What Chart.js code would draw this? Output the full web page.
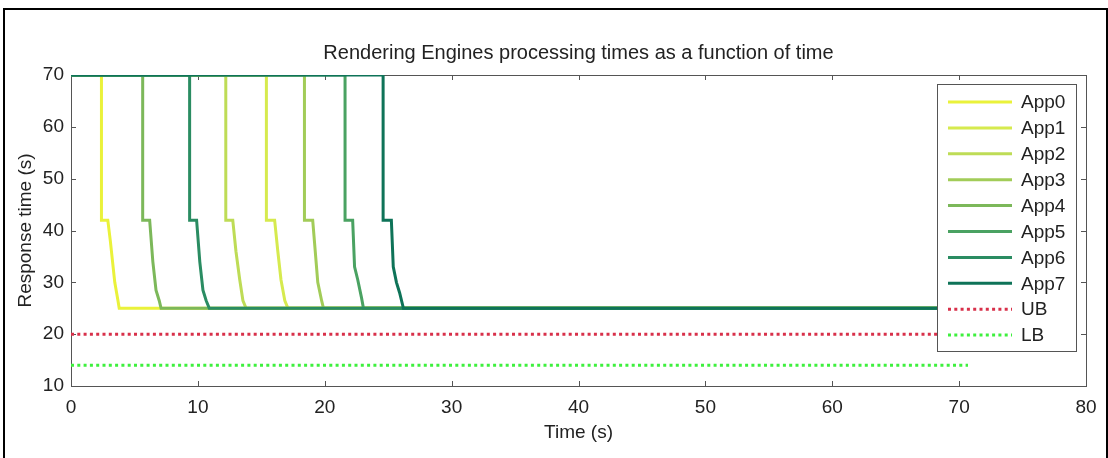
<!DOCTYPE html>
<html lang="en">
<head>
  <meta charset="UTF-8">
  <title>Rendering Engines</title>
  <script src="https://cdn.jsdelivr.net/npm/chart.js"></script>
  <style>
    html, body {
      margin: 0;
      padding: 0;
      background: #fff;
      overflow: hidden;
    }
    .frame {
      position: absolute;
      left: 3px;
      top: 8px;
      width: 1101px;
      height: 480px;
      border: 2px solid #000;
    }
    canvas {
      position: absolute;
      left: 0;
      top: 0;
    }
  </style>
</head>
<body>

<div class="frame"></div>
<canvas id="chart" width="1108" height="458"></canvas>

<script>
  // time (s) / response time (s) for each app
  const app0T = [0, 2.4, 2.4, 2.9, 3.1, 3.45, 3.7, 3.8, 71];
  const app0R = [70, 70, 42, 42, 38, 30, 26.5, 25, 25];
  const app1T = [0, 15.4, 15.4, 16.05, 16.3, 16.55, 16.85, 17.1, 71];
  const app1R = [70, 70, 42, 42, 36, 30.5, 26.5, 25, 25];
  const app2T = [0, 12.2, 12.2, 12.75, 13.0, 13.3, 13.55, 13.8, 71];
  const app2R = [70, 70, 42, 42, 36, 30.5, 26.5, 25, 25];
  const app3T = [0, 18.4, 18.4, 19.05, 19.2, 19.45, 19.75, 19.9, 71];
  const app3R = [70, 70, 42, 42, 37.5, 30, 26.5, 25, 25];
  const app4T = [0, 5.65, 5.65, 6.2, 6.45, 6.7, 6.95, 7.1, 71];
  const app4R = [70, 70, 42, 42, 34, 28.5, 26.5, 25, 25];
  const app5T = [0, 21.6, 21.6, 22.2, 22.35, 22.6, 22.9, 23.05, 71];
  const app5R = [70, 70, 42, 42, 33, 30.5, 27, 25, 25];
  const app6T = [0, 9.35, 9.35, 9.9, 10.15, 10.4, 10.65, 10.9, 71];
  const app6R = [70, 70, 42, 42, 34, 28.5, 26.5, 25, 25];
  const app7T = [0, 24.6, 24.6, 25.25, 25.4, 25.65, 25.9, 26.2, 71];
  const app7R = [70, 70, 42, 42, 33, 30, 28, 25, 25];
  const ubT = [0, 71];
  const ubR = [20, 20];
  const lbT = [0, 70.7];
  const lbR = [14, 14];

  const labels = ["App0", "App1", "App2", "App3", "App4", "App5", "App6", "App7", "UB", "LB"];
  const times = [app0T, app1T, app2T, app3T, app4T, app5T, app6T, app7T, ubT, lbT];
  const resps = [app0R, app1R, app2R, app3R, app4R, app5R, app6R, app7R, ubR, lbR];
  const colors = ["#eaf23a", "#d6ea4e", "#bedc56", "#a2cc58", "#7cb85a", "#4aa262", "#2a8c62", "#0e7358", "#d8304a", "#3ef03e"];

  const xTicks = [0, 10, 20, 30, 40, 50, 60, 70, 80];
  const yTicks = [10, 20, 30, 40, 50, 60, 70];

  const FONT = "'Liberation Sans', Arial, sans-serif";

  const datasets = labels.map((name, i) => {
    const dotted = name === "UB" || name === "LB";
    return {
      label: name,
      data: times[i].map((t, k) => ({ x: t, y: resps[i][k] })),
      showLine: true,
      borderColor: colors[i],
      backgroundColor: colors[i],
      borderWidth: 3,
      borderDash: dotted ? [3, 3.3] : [],
      pointRadius: 0,
      tension: 0,
      order: dotted ? 20 : 10 - i
    };
  });

  // matlab style box with inward ticks
  const boxPlugin = {
    id: "box",
    beforeDatasetsDraw(chart) {
      const { ctx, chartArea: a, scales } = chart;
      ctx.save();
      ctx.strokeStyle = "#555";
      ctx.lineWidth = 1;
      ctx.strokeRect(a.left + 0.5, a.top + 0.5, a.right - a.left, a.bottom - a.top);
      ctx.beginPath();
      xTicks.forEach(v => {
        const px = Math.round(scales.x.getPixelForValue(v)) + 0.5;
        ctx.moveTo(px, a.bottom); ctx.lineTo(px, a.bottom - 5);
        ctx.moveTo(px, a.top); ctx.lineTo(px, a.top + 5);
      });
      yTicks.forEach(v => {
        const py = Math.round(scales.y.getPixelForValue(v)) + 0.5;
        ctx.moveTo(a.left, py); ctx.lineTo(a.left + 5, py);
        ctx.moveTo(a.right, py); ctx.lineTo(a.right - 5, py);
      });
      ctx.stroke();
      ctx.restore();
    },
    afterDraw(chart) {
      const { ctx, chartArea: a } = chart;
      ctx.save();
      // title
      ctx.fillStyle = "#222";
      ctx.font = "20px " + FONT;
      ctx.textAlign = "center";
      ctx.textBaseline = "middle";
      ctx.fillText("Rendering Engines processing times as a function of time", (a.left + a.right) / 2, 53);

      // legend box
      const lx = 937, ly = 84, lw = 139, lh = 267;
      ctx.fillStyle = "#fff";
      ctx.fillRect(lx, ly, lw, lh);
      ctx.strokeStyle = "#555";
      ctx.lineWidth = 1;
      ctx.strokeRect(lx + 0.5, ly + 0.5, lw, lh);
      ctx.font = "19px " + FONT;
      ctx.textAlign = "left";
      chart.data.datasets.forEach((ds, i) => {
        const y = 102 + i * 25.9;
        ctx.strokeStyle = ds.borderColor;
        ctx.lineWidth = 3;
        ctx.setLineDash(ds.borderDash);
        ctx.beginPath();
        ctx.moveTo(948, y);
        ctx.lineTo(1012, y);
        ctx.stroke();
        ctx.setLineDash([]);
        ctx.fillStyle = "#222";
        ctx.fillText(ds.label, 1021, y + 1);
      });
      ctx.restore();
    }
  };

  new Chart(document.getElementById("chart"), {
    type: "scatter",
    data: { datasets },
    options: {
      responsive: false,
      animation: false,
      layout: { padding: { left: 0, top: 75, right: 22, bottom: 0 } },
      plugins: {
        legend: { display: false },
        tooltip: { enabled: false }
      },
      scales: {
        x: {
          type: "linear",
          min: 0,
          max: 80,
          afterFit(s) { s.height = 72; },
          afterBuildTicks(s) { s.ticks = xTicks.map(v => ({ value: v })); },
          grid: { display: false, drawTicks: false },
          border: { display: false },
          ticks: { color: "#222", font: { size: 19, family: FONT }, padding: 10, maxRotation: 0 },
          title: { display: true, text: "Time (s)", color: "#222", font: { size: 19, family: FONT }, padding: { top: 0, bottom: 14 } }
        },
        y: {
          type: "linear",
          min: 10,
          max: 70,
          afterFit(s) { s.width = 71; },
          afterBuildTicks(s) { s.ticks = yTicks.map(v => ({ value: v })); },
          grid: { display: false, drawTicks: false },
          border: { display: false },
          ticks: { color: "#222", font: { size: 19, family: FONT }, padding: 7 },
          title: { display: true, text: "Response time (s)", color: "#222", font: { size: 19, family: FONT }, padding: { top: 14, bottom: 0 } }
        }
      }
    },
    plugins: [boxPlugin]
  });
</script>

</body>
</html>
